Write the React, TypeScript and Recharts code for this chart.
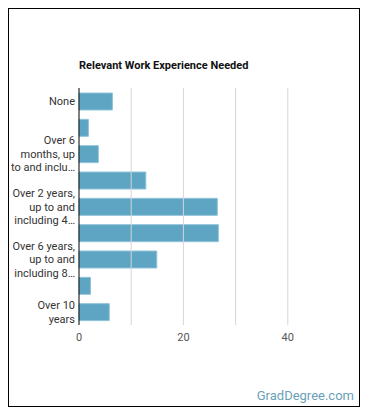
import { BarChart, Bar, XAxis, YAxis, ReferenceLine } from 'recharts';

const categories = [
  'None',
  'Over 3 months, up to and including 6 months',
  'Over 6 months, up to and including 1 year',
  'Over 1 year, up to and including 2 years',
  'Over 2 years, up to and including 4 years',
  'Over 4 years, up to and including 6 years',
  'Over 6 years, up to and including 8 years',
  'Over 8 years, up to and including 10 years',
  'Over 10 years',
];
const shares = [6.4, 1.8, 3.7, 12.8, 26.5, 26.7, 14.9, 2.2, 5.8];
const xTicks = [0, 10, 20, 30, 40];
const xLabels = ['0', '', '20', '', '40'];
const gridValues = [10, 20, 30, 40];

const data = categories.map((name, i) => ({ name, value: shares[i] }));

const FONT = '11px Roboto';
let ctx: CanvasRenderingContext2D | null = null;
function measure(s: string) {
  if (!ctx) ctx = document.createElement('canvas').getContext('2d');
  if (!ctx) return s.length * 5.5;
  ctx.font = FONT;
  return ctx.measureText(s).width;
}

// wrap words to a max width, at most maxLines, last line cut with an ellipsis
function wrap(text: string, maxW: number, maxLines: number) {
  const words = text.split(' ');
  const lines: string[] = [];
  let cur = '';
  for (let i = 0; i < words.length; i++) {
    const test = cur ? cur + ' ' + words[i] : words[i];
    if (measure(test) <= maxW || !cur) {
      cur = test;
    } else {
      lines.push(cur);
      cur = words[i];
      if (lines.length === maxLines - 1) {
        cur = words.slice(i).join(' ');
        break;
      }
    }
  }
  if (measure(cur) > maxW) {
    let t = cur;
    while (t.length > 1 && measure(t + '…') > maxW) t = t.slice(0, -1);
    cur = t.trimEnd() + '…';
  }
  lines.push(cur);
  return lines;
}

function CategoryTick(props: any) {
  const { x, y, payload } = props;
  const lines = wrap(String(payload.value), 66, 3);
  const lh = 13.5;
  return (
    <text
      x={x + 4}
      y={y}
      textAnchor="end"
      style={{ fontSize: 11, fontFamily: 'Roboto', fill: '#333' }}
    >
      {lines.map((l, i) => (
        <tspan
          key={i}
          x={x + 4}
          dy={i === 0 ? -((lines.length - 1) / 2) * lh + 4 : lh}
        >
          {l}
        </tspan>
      ))}
    </text>
  );
}

export default function App() {
  return (
    <div
      style={{
        position: 'relative',
        width: 352,
        height: 399,
        boxSizing: 'border-box',
        border: '1px solid #000',
        background: '#fff',
        fontFamily: 'Roboto',
      }}
    >
      <div
        style={{
          position: 'absolute',
          left: 70,
          top: 50,
          fontSize: 11,
          fontWeight: 'bold',
          color: '#111',
          lineHeight: '14px',
        }}
      >
        Relevant Work Experience Needed
      </div>
      <div style={{ position: 'absolute', left: 0, top: 0 }}>
        <BarChart
          width={350}
          height={397}
          data={data}
          layout="vertical"
          margin={{ top: 79, right: 19, bottom: 51, left: 0 }}
        >
          {gridValues.map((v) => (
            <ReferenceLine key={v} x={v} stroke="#d6d6d6" />
          ))}
          <XAxis
            type="number"
            domain={[0, 50]}
            ticks={xTicks}
            tickFormatter={(v: number) => xLabels[xTicks.indexOf(v)]}
            axisLine={false}
            tickLine={false}
            height={30}
            tick={{ fontSize: 11, fontFamily: 'Roboto', fill: '#555' }}
          />
          <YAxis
            type="category"
            dataKey="name"
            width={70}
            interval={1}
            axisLine={{ stroke: '#000' }}
            tickLine={false}
            tick={<CategoryTick />}
          />
          <Bar
            dataKey="value"
            fill="#5ea4c3"
            stroke="#8fc3da"
            strokeWidth={1}
            barSize={17}
            isAnimationActive={false}
          />
        </BarChart>
      </div>
      <div
        style={{
          position: 'absolute',
          right: 5,
          top: 379,
          fontSize: 13,
          color: '#6a9fb8',
        }}
      >
        GradDegree.com
      </div>
    </div>
  );
}
